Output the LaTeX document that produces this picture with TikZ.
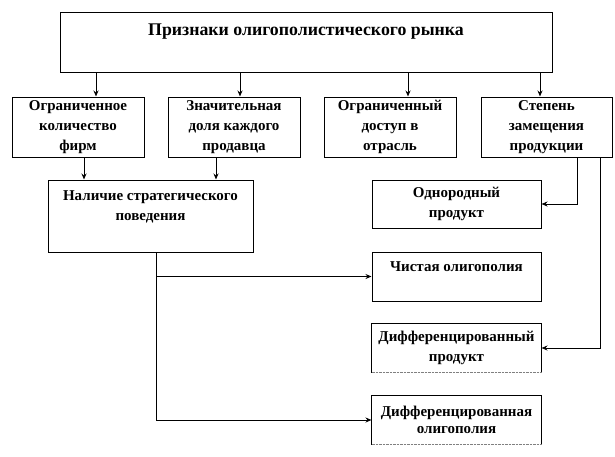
\documentclass[tikz,border=0pt]{standalone}
\usepackage{fontspec}
\setmainfont{Liberation Serif}
\usetikzlibrary{positioning,arrows.meta}

\tikzset{
  box/.style={draw, line width=1pt, align=center, inner sep=2pt,
    font=\fontsize{15}{20}\selectfont\bfseries},
  openbox/.style={box, draw=none},
  arr/.style={-{Stealth[length=6pt,width=5pt]}, line width=1pt},
}

\begin{document}
\begin{tikzpicture}[x=1pt,y=-1pt]
  \useasboundingbox (0,0) rectangle (615,456);
  % Top box
  \node[box, minimum width=492, minimum height=60,
    font=\fontsize{17.8}{24}\selectfont\bfseries] (signs) at (306,42)
    {Признаки олигополистического рынка\\\mbox{}};
  % Row of features
  \node[box, minimum width=132, minimum height=60] (firms) at (78,127) {Ограниченное\\количество\\фирм};
  \node[box, minimum width=132, minimum height=60] (share) at (234,127) {Значительная\\доля каждого\\продавца};
  \node[box, minimum width=132, minimum height=60] (entry) at (390,127) {Ограниченный\\доступ в\\отрасль};
  \node[box, minimum width=131, minimum height=60] (subst) at (546.5,127) {Степень\\замещения\\продукции};
  % Left column
  \node[box, minimum width=205, minimum height=72] (strat) at (150.5,216) {Наличие стратегического\\поведения\\\mbox{}};
  % Right column
  \node[box, minimum width=169, minimum height=48] (homog) at (456.5,204) {Однородный\\продукт};
  \node[box, minimum width=169, minimum height=49] (pure) at (456.5,276.5) {Чистая олигополия\\\mbox{}};
  \node[openbox, minimum width=169, minimum height=48] (diffprod) at (456.5,348) {Дифференцированный\\продукт};
  \node[openbox, minimum width=169, minimum height=48, font=\fontsize{15}{17}\selectfont\bfseries] (difolig) at (456.5,420) {Дифференцированная\\олигополия};
  \foreach \n in {diffprod,difolig} {
    \draw[line width=1pt] (\n.south west) |- (\n.north east) -- (\n.south east);
    \draw[gray, densely dotted] (\n.south west) -- (\n.south east);
  }
  % Arrows from the top box
  \draw[arr] ([xshift=18]firms.north |- signs.south) -- ([xshift=18]firms.north);
  \draw[arr] ([xshift=6]share.north |- signs.south) -- ([xshift=6]share.north);
  \draw[arr] ([xshift=18]entry.north |- signs.south) -- ([xshift=18]entry.north);
  \draw[arr] ([xshift=-6.5]subst.north |- signs.south) -- ([xshift=-6.5]subst.north);
  % Into strategic behaviour
  \draw[arr] ([xshift=6]firms.south) -- ([xshift=6]firms.south |- strat.north);
  \draw[arr] ([xshift=-18]share.south) -- ([xshift=-18]share.south |- strat.north);
  % Substitution branches
  \draw[arr] ([xshift=30.5]subst.south) |- (homog.east);
  \draw[arr] ([xshift=53.5]subst.south) |- (diffprod.east);
  % Strategic behaviour branches
  \draw[arr] ([xshift=5.5]strat.south) |- (pure.west);
  \draw[arr] ([xshift=5.5]strat.south) |- (difolig.west);
\end{tikzpicture}
\end{document}
